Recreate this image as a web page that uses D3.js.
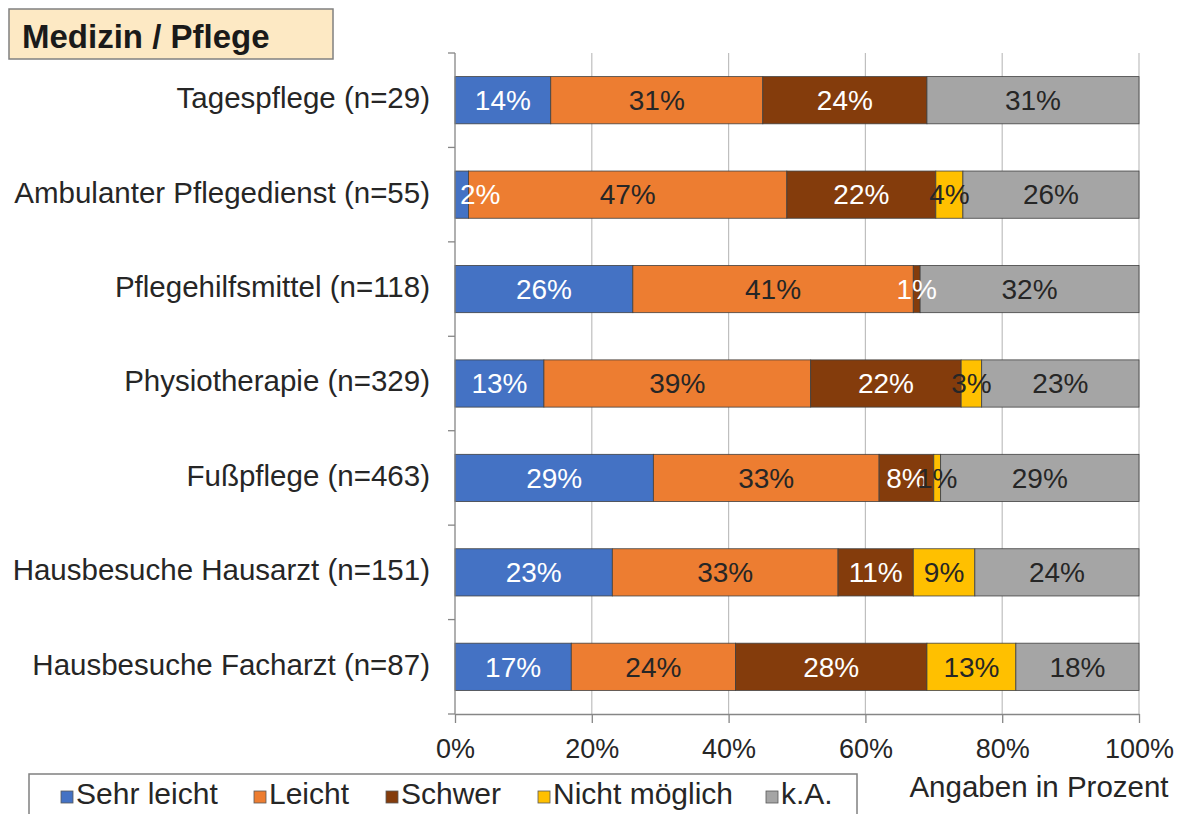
<!DOCTYPE html>
<html>
<head>
<meta charset="utf-8">
<script src="https://cdn.jsdelivr.net/npm/d3@7"></script>
<style>
  html, body { margin: 0; padding: 0; background: #fff; }
  svg { display: block; font-family: "Liberation Sans", Arial, sans-serif; }
</style>
</head>
<body>
<svg id="chart" width="1184" height="814"></svg>
<script>
// ---- Data ----
const title = "Medizin / Pflege";
const categories = [
  "Tagespflege (n=29)",
  "Ambulanter Pflegedienst (n=55)",
  "Pflegehilfsmittel (n=118)",
  "Physiotherapie (n=329)",
  "Fußpflege (n=463)",
  "Hausbesuche Hausarzt (n=151)",
  "Hausbesuche Facharzt (n=87)"
];
const seriesNames = ["Sehr leicht", "Leicht", "Schwer", "Nicht möglich", "k.A."];
const sehrLeicht    = [14,  2, 26, 13, 29, 23, 17];
const leicht        = [31, 47, 41, 39, 33, 33, 24];
const schwer        = [24, 22,  1, 22,  8, 11, 28];
const nichtMoeglich = [ 0,  4,  0,  3,  1,  9, 13];
const kA            = [31, 26, 32, 23, 29, 24, 18];
const xTickValues   = [0, 20, 40, 60, 80, 100];
const axisNote = "Angaben in Prozent";

// ---- Styles ----
const colors = ["#4472C4", "#ED7D31", "#843C0C", "#FFC000", "#A5A5A5"];
const labelColors = ["#ffffff", "#262626", "#ffffff", "#262626", "#262626"];
const textColor = "#262626";

const seriesValues = [sehrLeicht, leicht, schwer, nichtMoeglich, kA];
const table = categories.map((c, i) => {
  const row = { cat: c };
  seriesNames.forEach((s, k) => row[s] = seriesValues[k][i]);
  return row;
});

const svg = d3.select("#chart");

const plot = { left: 455, right: 1139, top: 53, bottom: 714 };
const x = d3.scaleLinear().domain([0, 1]).range([plot.left, plot.right]);
const y = d3.scaleBand().domain(categories).range([plot.top, plot.bottom])
  .paddingInner(0.5).paddingOuter(0.25);

// Title box
svg.append("rect").attr("x", 9).attr("y", 9).attr("width", 324).attr("height", 50)
  .attr("fill", "#FDE9C4").attr("stroke", "#808080").attr("stroke-width", 1.5);
svg.append("text").attr("x", 22).attr("y", 48).text(title)
  .attr("font-size", 33).attr("font-weight", "bold").attr("fill", "#1a1a1a");

// Gridlines
svg.append("g").selectAll("line").data(xTickValues.filter(v => v > 0)).join("line")
  .attr("x1", d => x(d / 100)).attr("x2", d => x(d / 100))
  .attr("y1", plot.top).attr("y2", plot.bottom)
  .attr("stroke", "#BFBFBF").attr("stroke-width", 1.2);

// Stack
const stack = d3.stack().keys(seriesNames).offset(d3.stackOffsetExpand);
const layers = stack(table);

const barsG = svg.append("g");
layers.forEach((layer, k) => {
  barsG.append("g").selectAll("rect").data(layer.filter(d => d[1] - d[0] > 0)).join("rect")
    .attr("x", d => x(d[0]))
    .attr("width", d => x(d[1]) - x(d[0]))
    .attr("y", d => y(d.data.cat))
    .attr("height", y.bandwidth())
    .attr("fill", colors[k])
    .attr("stroke", "#404040").attr("stroke-width", 0.8);
});

// Y axis (labels)
const yAxis = svg.append("g").attr("transform", `translate(${plot.left},0)`)
  .call(d3.axisLeft(y).tickSize(0).tickPadding(25));
yAxis.select(".domain").remove();
yAxis.selectAll("text").attr("font-size", 29.5).attr("fill", textColor)
  .attr("font-family", "Liberation Sans, Arial, sans-serif").attr("dy", "0.27em");

// Y axis line & boundary ticks
const boundaries = d3.range(categories.length + 1).map(i => plot.top + i * y.step());
svg.append("line").attr("x1", plot.left).attr("x2", plot.left)
  .attr("y1", plot.top).attr("y2", plot.bottom).attr("stroke", "#868686").attr("stroke-width", 1.3);
svg.append("g").selectAll("line").data(boundaries).join("line")
  .attr("x1", plot.left - 7).attr("x2", plot.left)
  .attr("y1", d => d).attr("y2", d => d)
  .attr("stroke", "#868686").attr("stroke-width", 1.3);

// X axis
const xAxis = svg.append("g").attr("transform", `translate(0,${plot.bottom})`)
  .call(d3.axisBottom(x).tickValues(xTickValues.map(v => v / 100))
    .tickFormat(d3.format(".0%")).tickSize(9).tickSizeOuter(0).tickPadding(16));
xAxis.select(".domain").attr("stroke", "#868686").attr("stroke-width", 1.3);
xAxis.selectAll(".tick line").attr("stroke", "#868686").attr("stroke-width", 1.3);
xAxis.selectAll("text").attr("font-size", 27).attr("fill", textColor)
  .attr("font-family", "Liberation Sans, Arial, sans-serif");

// Bar labels
const labelsG = svg.append("g");
layers.forEach((layer, k) => {
  layer.forEach(d => {
    const v = d.data[layer.key];
    if (!(v > 0)) return;
    const cx = (x(d[0]) + x(d[1])) / 2;
    const t = labelsG.append("text")
      .attr("x", cx).attr("y", y(d.data.cat) + y.bandwidth() / 2)
      .attr("dy", "0.35em").attr("text-anchor", "middle")
      .attr("font-size", 28).attr("fill", labelColors[k])
      .text(v + "%");
    const w = t.node().getComputedTextLength();
    const minX = plot.left + w / 2 + 5;
    const maxX = plot.right - w / 2;
    t.attr("x", Math.min(Math.max(cx, minX), maxX));
  });
});

// Legend
svg.append("rect").attr("x", 29).attr("y", 774).attr("width", 828).attr("height", 60)
  .attr("fill", "#fff").attr("stroke", "#808080").attr("stroke-width", 1.5);
const legendX = [61, 254, 386, 538, 766];
const lg = svg.append("g");
seriesNames.forEach((s, k) => {
  const g = lg.append("g").attr("transform", `translate(${legendX[k]},0)`);
  g.append("rect").attr("x", 0).attr("y", 791).attr("width", 12).attr("height", 12)
    .attr("fill", colors[k]).attr("stroke", "#595959").attr("stroke-width", 0.8);
  g.append("text").attr("x", 15).attr("y", 804).attr("font-size", 30)
    .attr("fill", textColor).text(s);
});

// Axis note
svg.append("text").attr("x", 1039).attr("y", 797).attr("text-anchor", "middle")
  .attr("font-size", 29.5).attr("fill", textColor).text(axisNote);
</script>
</body>
</html>
